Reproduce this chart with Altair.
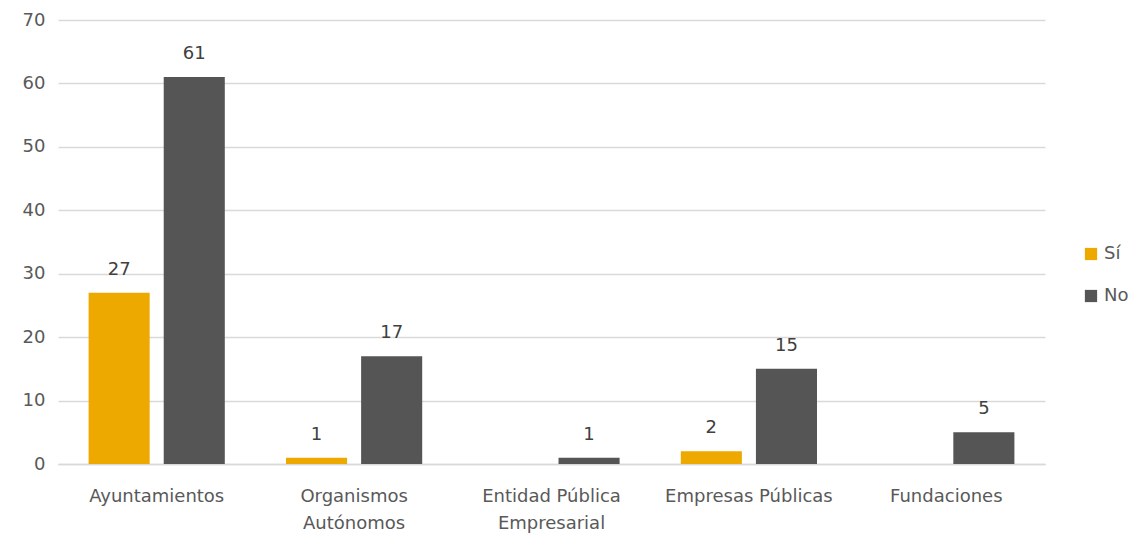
import altair as alt
import pandas as pd

categories = ["Ayuntamientos", "Organismos Autónomos", "Entidad Pública Empresarial",
              "Empresas Públicas", "Fundaciones"]
si_values = [27, 1, 0, 2, 0]
no_values = [61, 17, 1, 15, 5]
series = ["Sí", "No"]
colors = ["#EEA900", "#555555"]

rows = []
for c, s, n in zip(categories, si_values, no_values):
    rows.append({"cat": c, "serie": "Sí", "val": s})
    rows.append({"cat": c, "serie": "No", "val": n})
df = pd.DataFrame(rows)

FONT = "DejaVu Sans"
FS = 18
label_expr = ("datum.label == 'Organismos Autónomos' ? ['Organismos','Autónomos'] : "
              "datum.label == 'Entidad Pública Empresarial' ? ['Entidad Pública','Empresarial'] : datum.label")

x = alt.X("cat:N", sort=categories, title=None,
          scale=alt.Scale(paddingInner=0.31, paddingOuter=0.155),
          axis=alt.Axis(labelAngle=0, labelExpr=label_expr, labelFont=FONT, labelFontSize=FS,
                        labelColor="#595959", ticks=False, domainColor="#D9D9D9", domainWidth=1.5,
                        labelPadding=23, labelLineHeight=27))
xo = alt.XOffset("serie:N", sort=series,
                 scale=alt.Scale(domain=series, paddingInner=0.187, paddingOuter=0))
y = alt.Y("val:Q", title=None,
          scale=alt.Scale(domain=[0, 70]),
          axis=alt.Axis(values=list(range(0, 71, 10)), labelFont=FONT, labelFontSize=FS,
                        labelColor="#595959", ticks=False, domain=False, labelPadding=13,
                        gridColor="#D9D9D9", gridWidth=1.5))
color = alt.Color("serie:N", sort=series,
                  scale=alt.Scale(domain=series, range=colors),
                  legend=alt.Legend(title=None, orient="none", legendX=1024, legendY=225,
                                    symbolType="square", symbolSize=150, symbolStrokeWidth=0,
                                    labelFont=FONT, labelFontSize=FS, labelColor="#595959",
                                    rowPadding=24, labelOffset=4))

base = alt.Chart(df).transform_filter("datum.val > 0")
bars = base.mark_bar().encode(x=x, xOffset=xo, y=y, color=color)
text = base.mark_text(font=FONT, fontSize=FS, color="#404040", baseline="alphabetic", dy=-18).encode(
    x=x, xOffset=xo, y=y, text="val:Q")

chart = (bars + text).properties(
    width=987, height=444,
    autosize=alt.AutoSizeParams(type="none"),
    padding={"left": 50, "top": 12, "right": 86, "bottom": 70},
).configure_view(stroke=None)

chart.save("out.html", embed_options={"renderer": "svg", "actions": False})
